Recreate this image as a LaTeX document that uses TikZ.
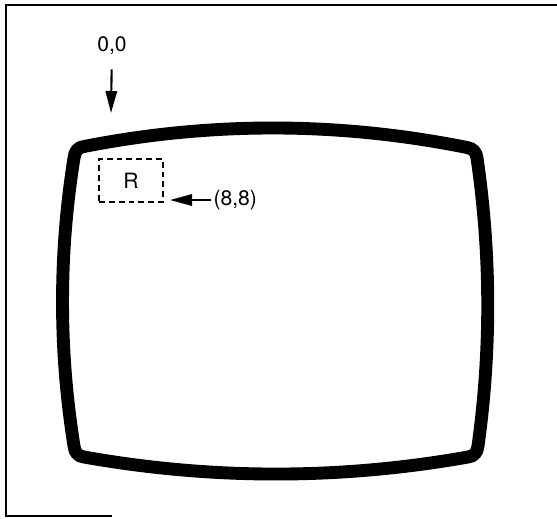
\documentclass[tikz,border=0pt]{standalone}
\usepackage{fontspec}
\setmainfont{TeX Gyre Heros}
\usetikzlibrary{arrows.meta}
\tikzset{
  pointer/.style={-{Triangle[length=6.6mm,width=3.4mm]},line width=1.8pt},
  rbox/.style={draw,dashed,dash pattern=on 5pt off 3.4pt,line width=1.3pt,
    minimum width=1.92cm,minimum height=1.29cm,inner sep=0pt},
  lbl/.style={font=\fontsize{18}{21}\selectfont,inner sep=2pt}
}
\newcommand{\screenedge}{%
  (84,146.5) .. controls (211.3,121.5) and (339,121.8) .. (467,147.5)
  .. controls (473,148.5) and (476.3,152) .. (477,158)
  .. controls (491,254) and (491.3,350) .. (478,446)
  .. controls (477.3,452.7) and (474,456.3) .. (468,457)
  .. controls (340,479.7) and (212,479.7) .. (84,457)
  .. controls (78,456.3) and (74.7,452.7) .. (74,446)
  .. controls (58.7,350) and (58.7,254) .. (74,158)
  .. controls (74.7,151.3) and (78,147) .. cycle
}

\begin{document}
\begin{tikzpicture}[x=0.03cm,y=-0.03cm]
  \useasboundingbox (0,0) rectangle (557,518);

  % frame
  \draw[line width=1.7pt] (557,5) -- (6,5) -- (6,516) -- (112,516);

  % screen
  \draw[line width=11pt,line join=round] \screenedge;

  \node[rbox,lbl] (R) at (131,180.5) {R};

  \node[lbl] (zero) at (112,46) {0,0};
  \coordinate (origin) at (111,113);
  \draw[pointer,shorten <=10pt] (zero) -- (origin);

  \node[lbl,anchor=west] (eight) at (211,200) {(8,8)};
  \coordinate (corner) at (170,200);
  \draw[pointer] (eight) -- (corner);
\end{tikzpicture}
\end{document}
